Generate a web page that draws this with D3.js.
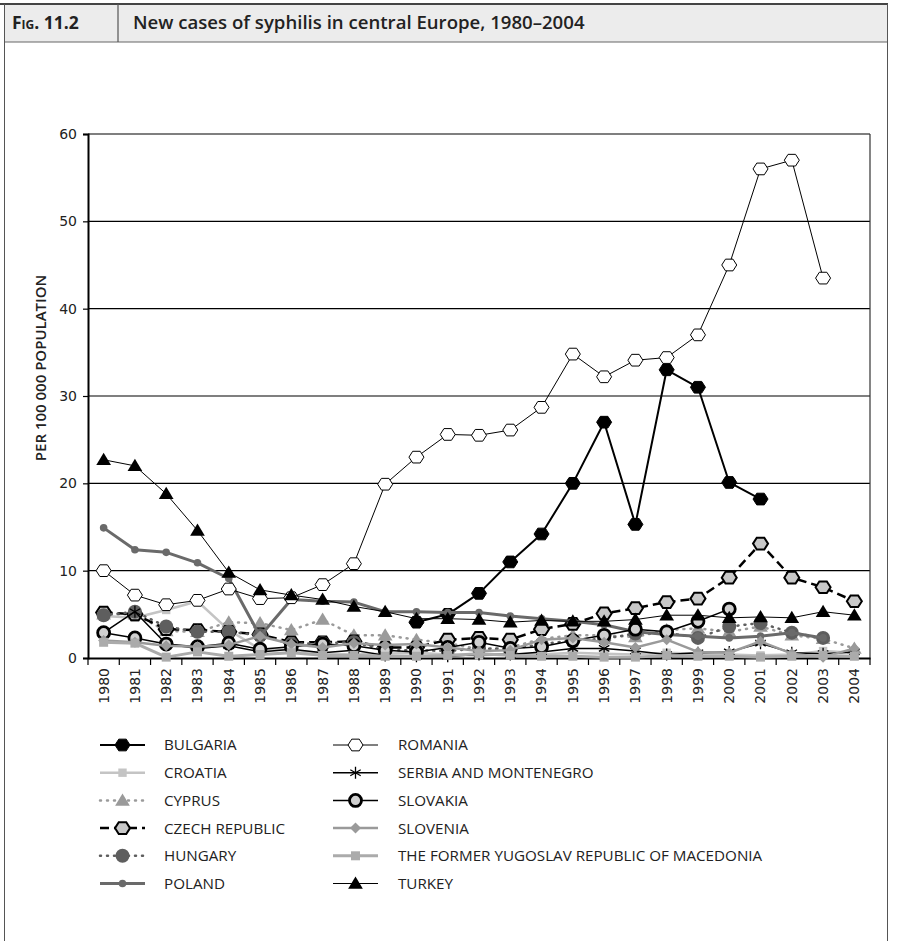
<!DOCTYPE html>
<html>
<head>
<meta charset="utf-8">
<script src="https://cdn.jsdelivr.net/npm/d3@7/dist/d3.min.js"></script>
<style>
  html, body { margin: 0; padding: 0; background: #fff; }
  svg { display: block; }
  .cond { font-family: "Open Sans", "Liberation Sans Narrow", sans-serif; }
  .tick text { font-family: "DejaVu Sans", sans-serif; }
</style>
</head>
<body>
<svg id="chart" width="908" height="941"></svg>
<script>
// New cases of syphilis per 100 000 population, 1980–2004
const years = d3.range(1980, 2005).map(String);
const yTicks = [0, 10, 20, 30, 40, 50, 60];
const N = null;

const bulgaria   = [N, N, N, N, N, N, N, N, N, N, 4.1, 5.0, 7.4, 11.0, 14.2, 20.0, 27.0, 15.3, 33.0, 31.0, 20.1, 18.2, N, N, N];
const croatia    = [4.8, 4.6, 5.5, 6.5, 3.2, 1.0, 0.9, 0.5, 0.4, 0.5, 0.6, 0.4, 0.3, 0.5, 0.4, 0.6, 0.5, 0.4, 0.6, 0.5, 0.4, 0.3, 0.4, 0.8, 0.6];
const cyprus     = [5.0, 5.0, 3.1, 3.0, 4.1, 4.0, 3.2, 4.4, 2.6, 2.6, 2.1, 1.7, 1.0, 1.2, 2.2, 2.6, 2.6, 2.4, 3.2, 3.4, 3.0, 3.6, 2.6, 2.2, 1.1];
const czech      = [5.2, 5.0, 3.3, 3.2, 3.0, 2.7, 1.8, 1.8, 1.9, 1.2, 1.2, 2.1, 2.3, 2.1, 3.3, 3.9, 5.1, 5.7, 6.4, 6.8, 9.2, 13.1, 9.2, 8.1, 6.5];
const hungary    = [4.9, 5.3, 3.6, 3.0, 3.0, 2.6, 1.6, 1.7, 1.8, 0.9, 0.9, 0.8, 1.1, 1.0, 1.6, 2.0, 2.2, 2.8, 2.9, 2.3, 3.6, 4.0, 2.9, 2.3, N];
const poland     = [14.9, 12.4, 12.1, 10.9, 9.1, 2.5, 6.7, 6.5, 6.4, 5.3, 5.3, 5.2, 5.2, 4.8, 4.5, 4.2, 3.8, 3.0, 2.7, 2.5, 2.3, 2.5, 2.9, 2.3, N];
const romania    = [10.0, 7.2, 6.1, 6.6, 7.9, 6.8, 6.9, 8.4, 10.8, 19.9, 23.0, 25.6, 25.5, 26.1, 28.7, 34.8, 32.2, 34.1, 34.4, 37.0, 45.0, 56.0, 57.0, 43.5, N];
const serbia     = [2.9, 5.3, 1.6, 1.1, 1.4, 0.7, 1.0, 0.6, 0.9, 0.3, 0.2, 0.2, 0.4, 0.4, 0.7, 1.1, 1.1, 0.8, 0.4, 0.6, 0.7, 1.7, 0.6, 0.5, 0.7];
const slovakia   = [2.9, 2.3, 1.6, 1.3, 1.7, 1.0, 1.3, 1.6, 1.4, 0.9, 0.7, 1.2, 1.8, 1.1, 1.3, 2.0, 2.6, 3.3, 3.0, 4.2, 5.6, N, N, N, N];
const slovenia   = [2.0, 1.8, 1.4, 1.3, 1.5, 2.5, 1.6, 1.2, 1.7, 1.5, 1.6, 1.2, 0.8, 0.9, 2.1, 2.3, 1.8, 1.2, 2.1, 0.7, 0.6, 1.9, 0.5, 0.1, 1.1];
const macedonia  = [1.8, 1.7, 0.1, 0.7, 0.2, 0.4, 0.6, 0.3, 0.3, 0.2, 0.2, 0.3, 0.5, 0.3, 0.2, 0.2, 0.1, 0.1, 0.3, 0.2, 0.2, 0.1, 0.2, 0.3, 0.2];
const turkey     = [22.7, 22.0, 18.8, 14.6, 9.8, 7.8, 7.2, 6.7, 5.9, 5.3, 4.5, 4.5, 4.4, 4.1, 4.3, 4.2, 4.2, 4.4, 4.9, 4.9, 4.6, 4.7, 4.6, 5.3, 4.9];

const countryNames = ["BULGARIA", "CROATIA", "CYPRUS", "CZECH REPUBLIC", "HUNGARY", "POLAND",
  "ROMANIA", "SERBIA AND MONTENEGRO", "SLOVAKIA", "SLOVENIA",
  "THE FORMER YUGOSLAV REPUBLIC OF MACEDONIA", "TURKEY"];
const countryValues = [bulgaria, croatia, cyprus, czech, hungary, poland,
  romania, serbia, slovakia, slovenia, macedonia, turkey];

// line and marker styling per country
const styles = [
  { line: "#000", width: 2,   dash: null,  symbol: "hex",    size: 7.5, fill: "#000", stroke: "#000", sw: 1 },
  { line: "#c4c4c4", width: 2.5, dash: null, symbol: "square", size: 4.2, fill: "#c4c4c4", stroke: "none", sw: 0 },
  { line: "#9a9a9a", width: 2.5, dash: "1,6", cap: "round", symbol: "tri", size: 7, fill: "#9a9a9a", stroke: "none", sw: 0 },
  { line: "#000", width: 2.5, dash: "9,5", symbol: "hex", size: 7.5, fill: "#c8c8c8", stroke: "#000", sw: 2 },
  { line: "#5e5e5e", width: 2.5, dash: "1,6", cap: "round", symbol: "circle", size: 7, fill: "#5e5e5e", stroke: "none", sw: 0 },
  { line: "#6a6a6a", width: 3, dash: null, symbol: "circle", size: 3.8, fill: "#6a6a6a", stroke: "none", sw: 0 },
  { line: "#000", width: 1, dash: null, symbol: "hex", size: 7.5, fill: "#fff", stroke: "#000", sw: 1 },
  { line: "#000", width: 1.5, dash: null, symbol: "star", size: 6, fill: "none", stroke: "#000", sw: 1.3 },
  { line: "#000", width: 1.5, dash: null, symbol: "circle", size: 6, fill: "#d0d0d0", stroke: "#000", sw: 2.8 },
  { line: "#9a9a9a", width: 2.5, dash: null, symbol: "diamond", size: 5.5, fill: "#9a9a9a", stroke: "none", sw: 0 },
  { line: "#ababab", width: 3, dash: null, symbol: "square", size: 4.5, fill: "#ababab", stroke: "none", sw: 0 },
  { line: "#000", width: 1, dash: null, symbol: "tri", size: 7, fill: "#000", stroke: "none", sw: 0 }
];

function symbolPath(type, r) {
  if (type === "hex") {
    const pts = d3.range(6).map(i => {
      const a = Math.PI / 3 * i;
      return [r * Math.cos(a), r * 0.9 * Math.sin(a)];
    });
    return "M" + pts.map(p => p.join(",")).join("L") + "Z";
  }
  if (type === "square") return `M${-r},${-r}H${r}V${r}H${-r}Z`;
  if (type === "tri") return `M0,${-r}L${r * 1.05},${r * 0.75}L${-r * 1.05},${r * 0.75}Z`;
  if (type === "diamond") return `M0,${-r}L${r},0L0,${r}L${-r},0Z`;
  if (type === "circle") return d3.arc()({ innerRadius: 0, outerRadius: r, startAngle: 0, endAngle: 2 * Math.PI });
  if (type === "star") {
    return `M0,${-r}V${r}M${-r * 0.87},${-r * 0.5}L${r * 0.87},${r * 0.5}M${-r * 0.87},${r * 0.5}L${r * 0.87},${-r * 0.5}`;
  }
}

const svg = d3.select("#chart");

// frame and header
svg.append("rect").attr("x", 4).attr("y", 4).attr("width", 884).attr("height", 38)
  .attr("fill", "#ececec");
svg.append("line").attr("x1", 0).attr("x2", 888).attr("y1", 4).attr("y2", 4)
  .attr("stroke", "#444").attr("stroke-width", 2);
svg.append("line").attr("x1", 4).attr("x2", 888).attr("y1", 42).attr("y2", 42)
  .attr("stroke", "#666").attr("stroke-width", 1);
svg.append("line").attr("x1", 118).attr("x2", 118).attr("y1", 4).attr("y2", 42)
  .attr("stroke", "#555").attr("stroke-width", 1.2);
svg.append("line").attr("x1", 4.5).attr("x2", 4.5).attr("y1", 4).attr("y2", 941)
  .attr("stroke", "#555").attr("stroke-width", 1);
svg.append("line").attr("x1", 887.5).attr("x2", 887.5).attr("y1", 4).attr("y2", 941)
  .attr("stroke", "#555").attr("stroke-width", 1);

svg.append("text").attr("class", "cond").attr("x", 12).attr("y", 29)
  .attr("font-size", 17.5).attr("font-weight", "bold").attr("fill", "#222")
  .style("font-variant", "small-caps").text("Fig. 11.2");
svg.append("text").attr("class", "cond").attr("x", 133).attr("y", 29)
  .attr("font-size", 18.6).attr("font-weight", 600).attr("fill", "#222")
  .text("New cases of syphilis in central Europe, 1980–2004");

// plot area
const plot = { left: 88, right: 870, top: 134, bottom: 658 };
const x = d3.scaleBand().domain(years).range([plot.left, plot.right]);
const y = d3.scaleLinear().domain([0, 60]).range([plot.bottom, plot.top]);
const cx = d => x(d) + x.bandwidth() / 2;

const g = svg.append("g");

// horizontal grid
g.append("g").selectAll("line").data(yTicks.filter(t => t > 0)).join("line")
  .attr("x1", plot.left).attr("x2", plot.right)
  .attr("y1", d => y(d)).attr("y2", d => y(d))
  .attr("stroke", "#000").attr("stroke-width", 1.2);
// right border
g.append("line").attr("x1", plot.right).attr("x2", plot.right)
  .attr("y1", plot.top).attr("y2", plot.bottom).attr("stroke", "#333").attr("stroke-width", 1.2);

// y axis
const yAxis = g.append("g").attr("transform", `translate(${plot.left},0)`)
  .call(d3.axisLeft(y).tickValues(yTicks).tickSize(5).tickPadding(6));
yAxis.select(".domain").attr("stroke-width", 2);
yAxis.selectAll(".tick line").attr("stroke-width", 1.2);
yAxis.selectAll(".tick text").attr("font-size", 14).attr("fill", "#222");

// x axis with tick marks between categories
const xAxis = g.append("g").attr("transform", `translate(0,${plot.bottom})`)
  .call(d3.axisBottom(x).tickSize(0).tickSizeOuter(0).tickPadding(0));
xAxis.select(".domain").attr("stroke-width", 2);
xAxis.selectAll(".tick text")
  .attr("font-size", 14).attr("fill", "#222")
  .attr("text-anchor", "end")
  .attr("transform", "rotate(-90)")
  .attr("x", -10).attr("y", 0).attr("dy", "0.35em");
g.append("g").selectAll("line").data(years.concat(["end"])).join("line")
  .attr("x1", (d, i) => plot.left + i * x.bandwidth())
  .attr("x2", (d, i) => plot.left + i * x.bandwidth())
  .attr("y1", plot.bottom).attr("y2", plot.bottom + 7)
  .attr("stroke", "#000").attr("stroke-width", 1.2);

svg.append("text").attr("font-family", "'Open Sans', sans-serif").attr("font-size", 15)
  .attr("font-weight", 600).attr("fill", "#222").attr("text-anchor", "middle")
  .attr("transform", "translate(46,368) rotate(-90)")
  .text("PER 100 000 POPULATION");

// series
const lineGen = d3.line()
  .defined(d => d.v !== null)
  .x(d => cx(d.year)).y(d => y(d.v));

countryValues.forEach((vals, i) => {
  const st = styles[i];
  const pts = vals.map((v, j) => ({ year: years[j], v }));
  const sg = g.append("g");
  sg.append("path").datum(pts)
    .attr("d", lineGen).attr("fill", "none")
    .attr("stroke", st.line).attr("stroke-width", st.width)
    .attr("stroke-dasharray", st.dash)
    .attr("stroke-linecap", st.cap || "butt")
    .attr("stroke-linejoin", "round");
  sg.selectAll("path.m").data(pts.filter(d => d.v !== null)).join("path")
    .attr("class", "m")
    .attr("transform", d => `translate(${cx(d.year)},${y(d.v)})`)
    .attr("d", symbolPath(st.symbol, st.size))
    .attr("fill", st.fill).attr("stroke", st.stroke).attr("stroke-width", st.sw);
});

// legend
const legend = svg.append("g");
countryNames.forEach((name, i) => {
  const st = styles[i];
  const col = i < 6 ? 0 : 1;
  const row = i % 6;
  const lx = col === 0 ? 100 : 333;
  const ly = 745 + row * 27.7;
  const lg = legend.append("g").attr("transform", `translate(${lx},${ly})`);
  lg.append("line").attr("x1", 0).attr("x2", 45).attr("y1", 0).attr("y2", 0)
    .attr("stroke", st.line).attr("stroke-width", st.width)
    .attr("stroke-dasharray", st.dash).attr("stroke-linecap", st.cap || "butt");
  lg.append("path").attr("transform", "translate(22.5,0)")
    .attr("d", symbolPath(st.symbol, st.size))
    .attr("fill", st.fill).attr("stroke", st.stroke).attr("stroke-width", st.sw);
  lg.append("text").attr("class", "cond").attr("x", col === 0 ? 64 : 65).attr("y", 0)
    .attr("dy", "0.36em").attr("font-size", 15.2).attr("fill", "#222").text(name);
});
</script>
</body>
</html>
